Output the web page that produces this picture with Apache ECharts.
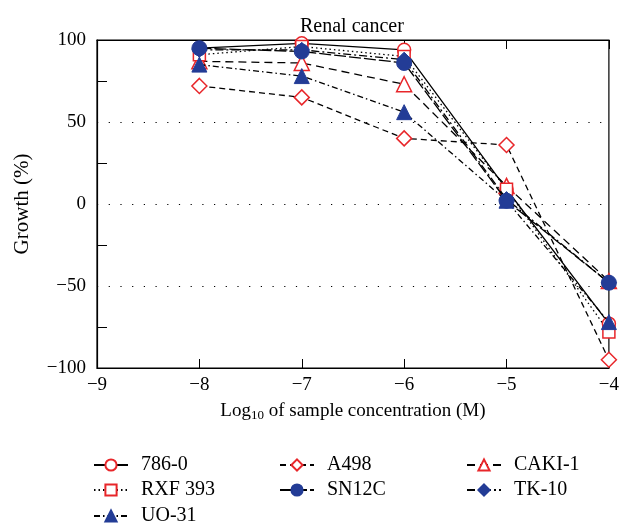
<!DOCTYPE html>
<html><head><meta charset="utf-8">
<script src="https://cdn.jsdelivr.net/npm/echarts@6/dist/echarts.min.js"></script>
<style>html,body{margin:0;padding:0;background:#fff}#c{width:622px;height:525px}</style>
</head><body><div id="c"></div>
<script>
const concentrations = [-8, -7, -6, -5, -4];
const s786_0 = [95, 98, 94, 9, -73];
const sA498 = [72, 65, 40, 36, -95];
const sCAKI1 = [87, 86, 73, 11, -47];
const sRXF393 = [91, 96, 90, 9, -78];
const sSN12C = [95, 93, 86, 2, -48];
const sTK10 = [94, 94, 88, 3, -48];
const sUO31 = [85, 78, 56, 2, -72];
const xTicks = [-9, -8, -7, -6, -5, -4];
const yTicks = [-100, -50, 0, 50, 100];

const RED = '#e8262a', BLUE = '#233c96';
const FONT = '"Liberation Serif", "DejaVu Serif", serif';
const minus = v => (v < 0 ? '\u2212' + Math.abs(v) : String(v));
const pts = arr => concentrations.map((x, i) => [x, arr[i]]);

function mk(name, arr, symbol, size, filled, color, dash, z) {
  return {
    name, type: 'line', data: pts(arr), symbol, symbolSize: size, z,
    lineStyle: { color: '#000', width: 1.3, type: dash },
    itemStyle: filled ? { color: color, borderColor: color, borderWidth: 1 }
                      : { color: '#fff', borderColor: color, borderWidth: 1.5 },
    emphasis: { disabled: true }, animation: false
  };
}
const series = [
  mk('786-0', s786_0, 'circle', 13, false, RED, 'solid', 2),
  mk('A498', sA498, 'diamond', 15, false, RED, [6, 4], 2),
  mk('CAKI-1', sCAKI1, 'triangle', 15, false, RED, [8, 5], 2),
  mk('RXF 393', sRXF393, 'rect', 12, false, RED, [1.5, 3], 2),
  mk('TK-10', sTK10, 'diamond', 15, true, BLUE, [8, 3, 2, 3], 3),
  mk('SN12C', sSN12C, 'circle', 15, true, BLUE, [12, 3], 4),
  mk('UO-31', sUO31, 'triangle', 15, true, BLUE, [6, 3, 1.5, 3], 4)
];
function leg(name, left, top) {
  return {
    data: [name], left, top, itemWidth: 34, itemHeight: 14,
    textStyle: { fontFamily: FONT, fontSize: 20, color: '#000', padding: [0, 0, 0, 8] },
    selectedMode: false
  };
}
const chart = echarts.init(document.getElementById('c'), null, { renderer: 'canvas' });
chart.setOption({
  backgroundColor: '#fff',
  animation: false,
  title: { text: 'Renal cancer', left: 295, top: 12,
    textStyle: { fontFamily: FONT, fontSize: 20, fontWeight: 'normal', color: '#000' } },
  grid: { left: 97, right: 9, top: 40, bottom: 157, show: true, borderColor: '#000', borderWidth: 1.2, backgroundColor: 'transparent' },
  legend: [
    leg('786-0', 88, 450), leg('RXF 393', 88, 475), leg('UO-31', 88, 501),
    leg('A498', 274, 450), leg('SN12C', 274, 475),
    leg('CAKI-1', 461, 450), leg('TK-10', 461, 475)
  ],
  xAxis: [{
    type: 'value', min: xTicks[0], max: xTicks[xTicks.length - 1], interval: 1,
    name: '{a|Log}{s|10}{a| of sample concentration (M)}', nameLocation: 'middle', nameGap: 32,
    nameTextStyle: { rich: { a: { fontFamily: FONT, fontSize: 19, color: '#000' }, s: { fontFamily: FONT, fontSize: 13, color: '#000', verticalAlign: 'bottom', padding: [9, 0, 0, 0] } } },
    axisLine: { show: true, onZero: false, lineStyle: { color: '#000', width: 1.2 } },
    axisTick: { show: true, inside: true, length: 9, lineStyle: { color: '#000' } },
    axisLabel: { formatter: minus, fontFamily: FONT, fontSize: 19, color: '#000', margin: 8 },
    splitLine: { show: false }
  }, {
    type: 'value', position: 'top', min: xTicks[0], max: xTicks[xTicks.length - 1], interval: 1,
    axisLine: { show: true, onZero: false, lineStyle: { color: '#000', width: 1.2 } },
    axisTick: { show: true, inside: true, length: 9, lineStyle: { color: '#000' } },
    axisLabel: { show: false }, splitLine: { show: false }
  }],
  yAxis: {
    type: 'value', min: yTicks[0], max: yTicks[yTicks.length - 1], interval: 50,
    name: 'Growth (%)', nameLocation: 'middle', nameGap: 64,
    nameTextStyle: { fontFamily: FONT, fontSize: 21, color: '#000' },
    axisLine: { show: true, onZero: false, lineStyle: { color: '#000', width: 1.2 } },
    axisTick: { show: false, inside: true },
    minorTick: { show: true, splitNumber: 2, length: 10, lineStyle: { color: '#000', width: 1 } },
    axisLabel: { formatter: minus, fontFamily: FONT, fontSize: 19, color: '#000', margin: 11 },
    splitLine: { show: true, lineStyle: { color: '#000', width: 1.2, type: [1.2, 10.5] } }
  },
  series
});
</script></body></html>
